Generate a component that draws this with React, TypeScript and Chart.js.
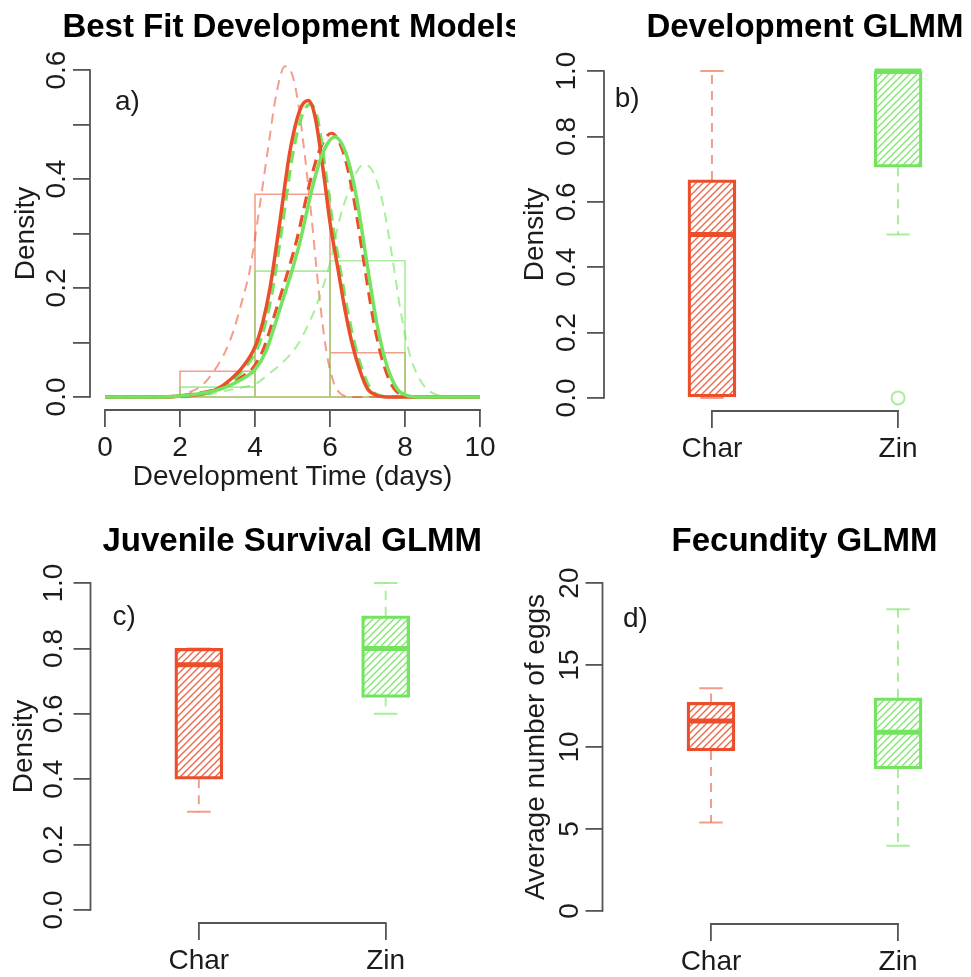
import React, { useEffect, useRef } from 'react';
import { Chart, registerables } from 'chart.js';

Chart.register(...registerables);

const FONT = "'Liberation Sans', Arial, Helvetica, sans-serif";
Chart.defaults.font.family = FONT;

// ---------- colours / styles ----------
const RED = 'rgb(234, 78, 42)';
const RED_LIGHT = 'rgba(234, 78, 42, 0.55)';
const GREEN = 'rgb(116, 228, 96)';
const GREEN_LIGHT = 'rgba(116, 228, 96, 0.62)';
const AXIS = '#555555';
const TEXT = '#1c1c1c';
const BODY = 28;
const TITLE = 33;

// ---------- panel a: development time ----------
const histEdges = [2, 4, 6, 8];
const charHist = [0.047, 0.372, 0.081];
const zinHist = [0.018, 0.231, 0.25];

type Pt = [number, number];

// Char, best fit (solid)
const charFitSolid: Pt[] = [
  [0, 0], [1.5, 0], [2.2, 0.002], [2.6, 0.006], [3.0, 0.015], [3.33, 0.031], [3.67, 0.055],
  [4.0, 0.092], [4.2, 0.135], [4.4, 0.2], [4.67, 0.325], [4.93, 0.45], [5.2, 0.527], [5.42, 0.544],
  [5.6, 0.515], [5.85, 0.4], [6.0, 0.32], [6.2, 0.24], [6.4, 0.16], [6.6, 0.095], [6.8, 0.048],
  [7.0, 0.015], [7.25, 0.003], [7.6, 0], [10, 0],
];
// Char, alternative fit (thin dashed, tall)
const charFitAltA: Pt[] = [
  [0, 0], [1.5, 0], [2.0, 0.003], [2.27, 0.009], [2.6, 0.022], [2.89, 0.046], [3.15, 0.075],
  [3.42, 0.12], [3.65, 0.175], [3.87, 0.236], [4.13, 0.352], [4.36, 0.462], [4.58, 0.56], [4.8, 0.607],
  [5.0, 0.59], [5.15, 0.54], [5.3, 0.46], [5.5, 0.335], [5.7, 0.195], [5.9, 0.085], [6.1, 0.026],
  [6.3, 0.005], [6.6, 0], [10, 0],
];
// Char, alternative fit (thick dashed, near Zin solid)
const charFitAltB: Pt[] = [
  [0, 0], [1.5, 0], [2.1, 0.003], [2.6, 0.008], [3.05, 0.016], [3.4, 0.027], [3.7, 0.039],
  [3.92, 0.051], [4.22, 0.087], [4.59, 0.166], [4.92, 0.24], [5.12, 0.29], [5.47, 0.395], [5.74, 0.456],
  [6.04, 0.484], [6.35, 0.45], [6.62, 0.37], [6.9, 0.25], [7.16, 0.14], [7.43, 0.06], [7.7, 0.016],
  [7.96, 0.003], [8.3, 0], [10, 0],
];
// Zin, best fit (solid)
const zinFitSolid: Pt[] = [
  [0, 0], [1.5, 0], [2.2, 0.003], [2.7, 0.008], [3.15, 0.016], [3.5, 0.027], [3.78, 0.038],
  [4.0, 0.05], [4.3, 0.085], [4.67, 0.163], [5.0, 0.235], [5.2, 0.285], [5.55, 0.39], [5.82, 0.45],
  [6.13, 0.477], [6.44, 0.444], [6.71, 0.365], [6.98, 0.248], [7.24, 0.138], [7.51, 0.059],
  [7.78, 0.016], [8.04, 0.003], [8.4, 0], [10, 0],
];
// Zin, alternative fit (thick dashed, near Char solid)
const zinFitAltA: Pt[] = [
  [0, 0], [1.5, 0], [2.3, 0.002], [2.7, 0.006], [3.1, 0.015], [3.4, 0.03], [3.75, 0.055],
  [4.07, 0.09], [4.27, 0.133], [4.47, 0.197], [4.74, 0.32], [5.0, 0.443], [5.27, 0.52], [5.48, 0.537],
  [5.67, 0.51], [5.92, 0.395], [6.07, 0.318], [6.27, 0.235], [6.47, 0.158], [6.67, 0.094],
  [6.87, 0.048], [7.07, 0.016], [7.3, 0.003], [7.7, 0], [10, 0],
];
// Zin, alternative fit (thin dashed, right)
const zinFitAltB: Pt[] = [
  [0, 0], [1.5, 0], [2.5, 0.003], [3.0, 0.008], [3.33, 0.013], [3.7, 0.018], [4.04, 0.025],
  [4.4, 0.044], [4.67, 0.059], [5.11, 0.093], [5.4, 0.13], [5.64, 0.168], [6.0, 0.246], [6.27, 0.33],
  [6.44, 0.367], [6.65, 0.405], [6.9, 0.427], [7.15, 0.413], [7.42, 0.352], [7.68, 0.248],
  [7.87, 0.163], [8.13, 0.077], [8.49, 0.022], [8.84, 0.004], [9.2, 0], [10, 0],
];

// ---------- boxplots: [lower whisker, Q1, median, Q3, upper whisker] ----------
const groups = ['Char', 'Zin'];
const devChar = [0, 0, 0.5, 0.667, 1.0];
const devZin = [0.5, 0.706, 1.0, 1.0, 1.0];
const devZinOutliers = [0];
const survChar = [0.3, 0.4, 0.75, 0.8, 0.8];
const survZin = [0.6, 0.65, 0.8, 0.9, 1.0];
const fecChar = [5.4, 9.76, 11.58, 12.72, 13.58];
const fecZin = [3.98, 8.66, 10.9, 13.0, 18.4];

// ---------- helpers ----------
const toXY = (pts: Pt[]) => pts.map(([x, y]) => ({ x, y }));

function histOutline(edges: number[], heights: number[]) {
  const pts: { x: number; y: number }[] = [];
  heights.forEach((h, i) => {
    pts.push({ x: edges[i], y: 0 }, { x: edges[i], y: h }, { x: edges[i + 1], y: h }, { x: edges[i + 1], y: 0 });
  });
  pts.push({ x: edges[0], y: 0 });
  return pts;
}

function hatch(color: string) {
  const s = 7;
  const c = document.createElement('canvas');
  c.width = s;
  c.height = s;
  const g = c.getContext('2d')!;
  g.strokeStyle = color;
  g.lineWidth = 1.4;
  g.beginPath();
  g.moveTo(0, s);
  g.lineTo(s, 0);
  g.moveTo(-1, 1);
  g.lineTo(1, -1);
  g.moveTo(s - 1, s + 1);
  g.lineTo(s + 1, s - 1);
  g.stroke();
  return g.createPattern(c, 'repeat')!;
}

const rAxesPlugin = {
  id: 'rAxes',
  afterDraw(chart: any) {
    const ctx = chart.ctx;
    const { left, bottom } = chart.chartArea;
    const xs = chart.scales.x;
    const ys = chart.scales.y;
    const xt = xs.ticks;
    const yt = ys.ticks;
    ctx.save();
    ctx.strokeStyle = AXIS;
    ctx.lineWidth = 1.8;
    ctx.beginPath();
    ctx.moveTo(xs.getPixelForValue(xt[0].value) - 0.9, bottom);
    ctx.lineTo(xs.getPixelForValue(xt[xt.length - 1].value) + 0.9, bottom);
    ctx.moveTo(left, ys.getPixelForValue(yt[0].value) + 0.9);
    ctx.lineTo(left, ys.getPixelForValue(yt[yt.length - 1].value) - 0.9);
    ctx.stroke();
    ctx.restore();
  },
};

const panelTextPlugin = {
  id: 'panelText',
  afterDraw(chart: any, _args: any, opts: any) {
    const ctx = chart.ctx;
    const ca = chart.chartArea;
    ctx.save();
    ctx.fillStyle = '#000';
    ctx.textAlign = 'center';
    ctx.textBaseline = 'alphabetic';
    ctx.font = `bold ${TITLE}px ${FONT}`;
    ctx.fillText(opts.title, (ca.left + ca.right) / 2, opts.titleY);
    ctx.fillStyle = TEXT;
    ctx.font = `${BODY}px ${FONT}`;
    ctx.textBaseline = 'middle';
    ctx.fillText(opts.letter, chart.scales.x.getPixelForValue(opts.letterAt[0]), chart.scales.y.getPixelForValue(opts.letterAt[1]));
    ctx.restore();
  },
};

const gridStyle = { drawOnChartArea: false, drawTicks: true, tickLength: 17, color: AXIS, lineWidth: 1.8, offset: false };

function yAxis(min: number, max: number, step: number, width: number, title: string, titlePad: number, labelPad: number, labelFn: (v: number) => string) {
  return {
    type: 'linear',
    position: 'left',
    min,
    max,
    afterFit: (s: any) => { s.width = width; },
    border: { display: false },
    grid: gridStyle,
    ticks: {
      stepSize: step,
      includeBounds: false,
      autoSkip: false,
      minRotation: 90,
      maxRotation: 90,
      crossAlign: 'center',
      padding: labelPad,
      color: TEXT,
      font: { size: BODY },
      callback: (v: any) => labelFn(Number(v)),
    },
    title: { display: true, text: title, color: TEXT, font: { size: BODY }, padding: { top: titlePad, bottom: 0 } },
  };
}

function boxXAxis(height: number) {
  return {
    type: 'linear',
    min: 0.42,
    max: 2.58,
    offset: false,
    afterFit: (s: any) => { s.height = height; },
    afterBuildTicks: (s: any) => { s.ticks = [{ value: 1 }, { value: 2 }]; },
    border: { display: false },
    grid: gridStyle,
    ticks: { autoSkip: false, maxRotation: 0, minRotation: 0, padding: 4, color: TEXT, font: { size: BODY }, callback: (v: any) => groups[Math.round(Number(v)) - 1] },
  };
}

const HALF = 0.126;
const STAPLE = 0.063;

function boxDatasets(stats: number[][], outliers: number[][]) {
  const strong = [RED, GREEN];
  const light = [RED_LIGHT, GREEN_LIGHT];
  const pats = [hatch('rgba(234, 78, 42, 0.85)'), hatch('rgba(116, 228, 96, 0.9)')];
  const ds: any[] = [];
  ds.push({
    type: 'bar',
    data: stats.map((s, i) => ({ x: i + 1, y: [s[1], s[3]] })),
    backgroundColor: pats,
    borderColor: strong,
    borderWidth: 2.6,
    borderSkipped: false,
    barThickness: 48,
    order: 2,
  });
  stats.forEach((s, i) => {
    const x = i + 1;
    ds.push({
      type: 'line',
      data: [{ x, y: s[3] }, { x, y: s[4] }, { x, y: null }, { x, y: s[1] }, { x, y: s[0] }],
      borderColor: light[i], borderWidth: 2, borderDash: [9, 7], pointRadius: 0, spanGaps: false, order: 3,
    });
    ds.push({
      type: 'line',
      data: [{ x: x - STAPLE, y: s[4] }, { x: x + STAPLE, y: s[4] }, { x, y: null }, { x: x - STAPLE, y: s[0] }, { x: x + STAPLE, y: s[0] }],
      borderColor: light[i], borderWidth: 2, pointRadius: 0, spanGaps: false, order: 3,
    });
    ds.push({
      type: 'line',
      data: [{ x: x - HALF, y: s[2] }, { x: x + HALF, y: s[2] }],
      borderColor: strong[i], borderWidth: 5, pointRadius: 0, order: 1,
    });
    (outliers[i] || []).forEach((o) => {
      ds.push({
        type: 'line', showLine: false, data: [{ x, y: o }],
        pointRadius: 6.5, pointBorderWidth: 2, pointBorderColor: light[i], pointBackgroundColor: 'rgba(0,0,0,0)', order: 0,
      });
    });
  });
  return ds;
}

function baseOptions(padding: any, textOpts: any, scales: any) {
  return {
    animation: false,
    responsive: false,
    devicePixelRatio: 1,
    layout: { padding },
    plugins: { legend: { display: false }, tooltip: { enabled: false }, title: { display: false }, panelText: textOpts },
    scales,
  };
}

const lineDs = (pts: Pt[], color: string, width: number, dash: number[], order: number) => ({
  type: 'line', data: toXY(pts), borderColor: color, borderWidth: width, borderDash: dash,
  pointRadius: 0, cubicInterpolationMode: 'monotone', order,
});

function buildA() {
  return {
    type: 'line',
    data: {
      datasets: [
        { type: 'line', data: histOutline(histEdges, charHist), borderColor: RED_LIGHT, borderWidth: 1.6, pointRadius: 0, tension: 0, order: 9 },
        { type: 'line', data: histOutline(histEdges, zinHist), borderColor: GREEN_LIGHT, borderWidth: 1.6, pointRadius: 0, tension: 0, order: 8 },
        lineDs(charFitAltA, RED_LIGHT, 2, [10, 7], 7),
        lineDs(zinFitAltB, GREEN_LIGHT, 2, [10, 7], 6),
        lineDs(charFitAltB, RED, 3.2, [12, 7], 5),
        lineDs(zinFitAltA, GREEN, 3.2, [12, 7], 4),
        lineDs(charFitSolid, RED, 3.5, [], 3),
        lineDs(zinFitSolid, GREEN, 3.5, [], 2),
      ],
    },
    options: baseOptions(
      { left: 0, top: 57, right: 20, bottom: 0 },
      { title: 'Best Fit Development Models', titleY: 37, letter: 'a)', letterAt: [0.6, 0.541] },
      {
        x: {
          type: 'linear', min: -0.4, max: 10.4,
          afterFit: (s: any) => { s.height = 95; },
          border: { display: false },
          grid: gridStyle,
          ticks: { stepSize: 2, includeBounds: false, autoSkip: false, maxRotation: 0, minRotation: 0, padding: 4, color: TEXT, font: { size: BODY } },
          title: { display: true, text: 'Development Time (days)', color: TEXT, font: { size: BODY }, padding: { top: 0, bottom: 10.6 } },
        },
        y: yAxis(-0.024, 0.624, 0.1, 90, 'Density', 9, -4, (v) => (Math.round(v * 10) % 2 === 0 ? v.toFixed(1) : '')),
      },
    ),
    plugins: [rAxesPlugin, panelTextPlugin],
  };
}

function buildBox(stats: number[][], outliers: number[][], padding: any, textOpts: any, yArgs: any[], xHeight: number) {
  const [min, max, step, width, title, tPad, lPad, fmt] = yArgs;
  return {
    type: 'line',
    data: { datasets: boxDatasets(stats, outliers) },
    options: baseOptions(padding, textOpts, {
      x: boxXAxis(xHeight),
      y: yAxis(min, max, step, width, title, tPad, lPad, fmt),
    }),
    plugins: [rAxesPlugin, panelTextPlugin],
  };
}

const fmt1 = (v: number) => v.toFixed(1);
const fmt0 = (v: number) => String(Math.round(v));

function buildB() {
  return buildBox([devChar, devZin], [[], devZinOutliers],
    { left: 0, top: 58, right: 24, bottom: 0 },
    { title: 'Development GLMM', titleY: 37, letter: 'b)', letterAt: [0.544, 0.914] },
    [-0.04, 1.04, 0.2, 89, 'Density', 3, 0, fmt1], 94);
}
function buildC() {
  return buildBox([survChar, survZin], [[], []],
    { left: 0, top: 82, right: 21, bottom: 0 },
    { title: 'Juvenile Survival GLMM', titleY: 63, letter: 'c)', letterAt: [0.6, 0.896] },
    [-0.04, 1.04, 0.2, 90.5, 'Density', 7, 0, fmt1], 54);
}
function buildD() {
  return buildBox([fecChar, fecZin], [[], []],
    { left: 0, top: 82, right: 23.5, bottom: 0 },
    { title: 'Fecundity GLMM', titleY: 63, letter: 'd)', letterAt: [0.596, 17.8] },
    [-0.8, 20.8, 5, 87.5, 'Average number of eggs', 4, 0, fmt0], 53);
}

function Panel({ left, top, width, height, build }: { left: number; top: number; width: number; height: number; build: () => any }) {
  const ref = useRef<HTMLCanvasElement>(null);
  useEffect(() => {
    const chart = new Chart(ref.current as HTMLCanvasElement, build());
    return () => chart.destroy();
  }, []);
  return (
    <canvas
      ref={ref}
      width={width}
      height={height}
      style={{ position: 'absolute', left, top, width, height }}
    />
  );
}

export default function App() {
  return (
    <div style={{ position: 'absolute', left: 0, top: 0, width: 971, height: 977, overflow: 'hidden', background: '#ffffff' }}>
      <Panel left={0} top={0} width={515} height={505} build={buildA} />
      <Panel left={515} top={0} width={515} height={505} build={buildB} />
      <Panel left={0} top={488} width={515} height={489} build={buildC} />
      <Panel left={515} top={488} width={515} height={489} build={buildD} />
    </div>
  );
}
